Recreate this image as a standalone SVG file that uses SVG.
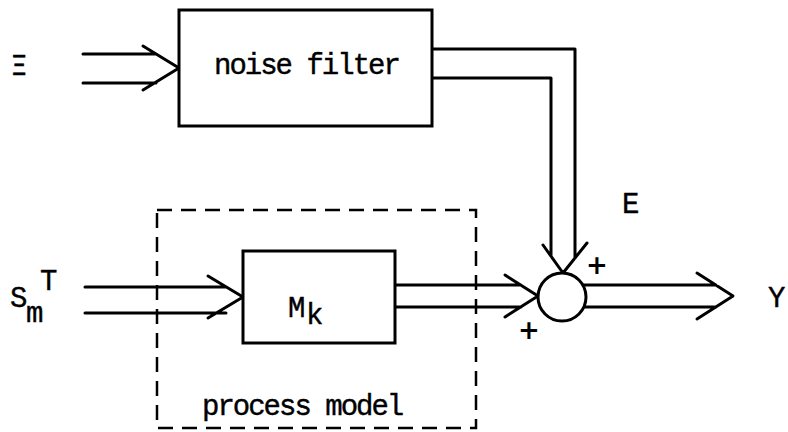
<svg xmlns="http://www.w3.org/2000/svg" width="788" height="432" viewBox="0 0 788 432">
<style>
.ln{fill:none;stroke:#000;stroke-width:3;stroke-linecap:round;stroke-linejoin:round}
.box{fill:#fff;stroke:#000;stroke-width:3}
.dash{fill:none;stroke:#000;stroke-width:2.5;stroke-dasharray:15 9}
.t{font-family:"Liberation Mono","DejaVu Sans Mono",monospace;font-size:29px;letter-spacing:-2px;fill:#000;stroke:#000;stroke-width:0.4}
.pl{font-family:"DejaVu Sans","Liberation Sans",sans-serif;font-size:26px;font-weight:bold;fill:#000;text-anchor:middle}
</style>
<rect width="788" height="432" fill="#fff"/>
<g id="connectors">
  <path class="ln" d="M83 54 H156 M83 83 H156 M143 46 L179 68 L143 90"/>
  <path class="ln" d="M432 49 H575 V258 M432 78 H551 V256 M543 245 L563 273 L587 243"/>
  <path class="ln" d="M85 287 H226 M85 313 H226 M208 276 L243 297 L208 318"/>
  <path class="ln" d="M395 285 H521 M395 307 H521 M505 275 L538 296 L505 317"/>
  <path class="ln" d="M583 285 H716 M584 307 H716 M697 273 L733 296 L697 319"/>
</g>
<g id="process_model">
  <rect class="dash" x="157" y="210" width="319" height="218"/>
  <text class="t" x="202" y="415">process model</text>
</g>
<g id="noise_filter">
  <rect class="box" x="179" y="10" width="253" height="116"/>
  <text class="t" x="214" y="74">noise filter</text>
</g>
<g id="Mk">
  <rect class="box" x="243" y="251" width="152" height="92"/>
  <text class="t" x="288" y="317">M</text>
  <text class="t" x="306" y="324">k</text>
</g>
<g id="sum">
  <circle cx="562" cy="297" r="24" fill="#fff" stroke="#000" stroke-width="3"/>
  <text class="pl" x="597" y="274">+</text>
  <text class="pl" x="529" y="339">+</text>
</g>
<g id="labels">
  <text x="19" y="75" font-family="DejaVu Sans, sans-serif" font-size="26" text-anchor="middle" stroke="#000" stroke-width="0.6">Ξ</text>
  <text class="t" x="10" y="307">S</text>
  <text class="t" x="26" y="322">m</text>
  <text class="t" x="40" y="290">T</text>
  <text class="t" x="622" y="213">E</text>
  <text class="t" x="768" y="307">Y</text>
</g>
</svg>
